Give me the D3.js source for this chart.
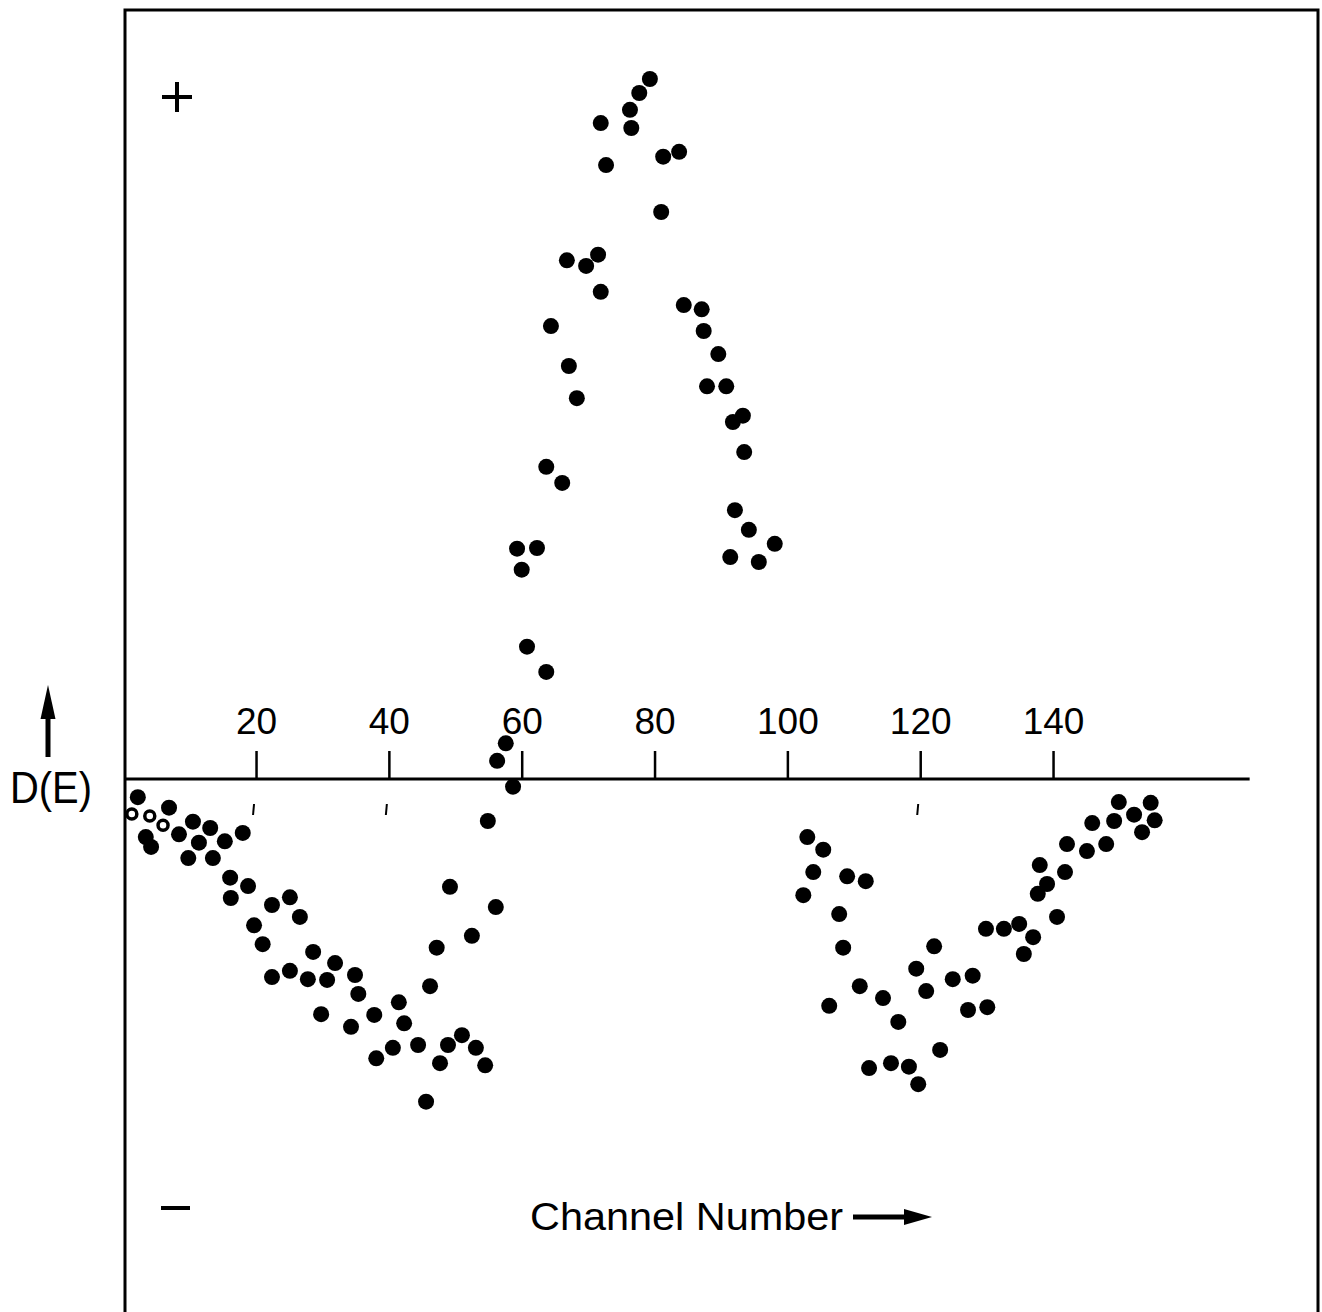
<!DOCTYPE html>
<html>
<head>
<meta charset="utf-8">
<script src="https://cdn.jsdelivr.net/npm/d3@7"></script>
<style>
  body { margin: 0; background: #fff; }
  svg { display: block; font-family: "Liberation Sans", Arial, Helvetica, sans-serif; }
</style>
</head>
<body>
<div id="chart"></div>
<script>
// channel numbers shown on the axis
const tickChannels = [20, 40, 60, 80, 100, 120, 140];
// the little marks that sit under the axis line
const lowerTickChannels = [20, 40, 120];

// [channel, D(E)], D(E) in arbitrary units (peak = 100)
const openPoints = [[1.3, -5.0], [4.0, -5.3], [6.0, -6.6]];

const leftBranch = [
  [2.2, -2.6], [3.4, -8.3], [4.2, -9.7], [6.9, -4.1], [8.4, -7.9], [9.8, -11.3],
  [10.5, -6.1], [11.4, -9.1], [13.1, -7.0], [13.5, -11.3], [15.3, -8.9], [16.1, -14.1],
  [16.2, -17.0], [18.0, -7.7], [18.8, -15.3], [19.7, -20.9], [21.0, -23.6], [22.4, -18.0],
  [22.4, -28.3], [25.1, -16.9], [25.1, -27.4], [26.6, -19.7], [27.8, -28.6], [28.6, -24.7],
  [29.8, -33.6], [30.7, -28.7], [31.9, -26.3], [34.3, -35.4], [34.9, -28.0], [35.4, -30.7],
  [37.8, -33.7], [38.1, -39.9], [40.6, -38.4], [41.5, -31.9], [42.3, -34.9], [44.4, -38.0],
  [45.6, -46.1], [46.2, -29.6], [47.2, -24.1], [47.7, -40.6], [48.9, -38.0], [49.2, -15.4],
  [51.0, -36.6], [52.5, -22.4], [53.1, -38.4], [54.5, -40.9], [54.9, -6.0], [56.1, -18.3],
  [56.3, 2.6], [57.6, 5.1], [58.7, -1.1]
];

const peakBranch = [
  [59.3, 32.9], [60.0, 29.9], [60.8, 18.9], [62.3, 33.0], [63.7, 44.6], [63.7, 15.3],
  [64.4, 64.7], [66.1, 42.3], [66.8, 74.1], [67.1, 59.0], [68.3, 54.4], [69.7, 73.3],
  [71.5, 74.9], [71.9, 69.6], [71.9, 93.7], [72.7, 87.7], [76.3, 95.6], [76.5, 93.0],
  [77.7, 98.0], [79.3, 100.0], [81.0, 81.0], [81.3, 88.9], [83.7, 89.6], [84.4, 67.7],
  [87.1, 67.1], [87.4, 64.0], [87.9, 56.1], [89.6, 60.7], [90.8, 56.1], [91.8, 51.0],
  [93.3, 51.9], [93.5, 46.7], [92.1, 38.4], [94.2, 35.6], [91.4, 31.7], [95.7, 31.0],
  [98.1, 33.6]
];

const rightBranch = [
  [102.4, -16.6], [103.0, -8.3], [103.9, -13.3], [105.4, -10.1], [106.3, -32.4], [107.8, -19.3],
  [108.4, -24.1], [109.0, -13.9], [110.9, -29.6], [111.8, -14.6], [112.3, -41.3], [114.4, -31.3],
  [115.6, -40.6], [116.7, -34.7], [118.3, -41.1], [119.4, -27.1], [119.7, -43.6], [120.9, -30.3],
  [122.1, -23.9], [123.0, -38.7], [124.9, -28.6], [127.2, -33.0], [127.9, -28.1], [129.9, -21.4],
  [130.1, -32.6], [132.6, -21.4], [134.9, -20.7], [135.6, -25.0], [137.0, -22.6], [137.7, -16.4],
  [138.0, -12.3], [139.1, -15.0], [140.6, -19.7], [141.8, -13.3], [142.1, -9.3], [145.1, -10.3],
  [145.9, -6.3], [148.0, -9.3], [149.2, -6.0], [149.9, -3.3], [152.2, -5.1], [153.4, -7.6],
  [154.7, -3.4], [155.3, -5.9]
];

const dimensions = { width: 1322, height: 1312 };
const frame = { left: 125, top: 10, right: 1318 };

const xScale = d3.scaleLinear().domain([0, 170]).range([123.2, 1252.3]);
const yScale = d3.scaleLinear().domain([0, 100]).range([779, 79]);

const svg = d3.select('#chart')
  .append('svg')
  .attr('width', dimensions.width)
  .attr('height', dimensions.height);

// box round the plot, bottom edge runs off the page
svg.append('path')
  .attr('d', `M${frame.left},${dimensions.height + 5} V${frame.top} H${frame.right} V${dimensions.height + 5}`)
  .attr('fill', 'none')
  .attr('stroke', '#000')
  .attr('stroke-width', 3);

// zero line
svg.append('line')
  .attr('x1', frame.left)
  .attr('x2', xScale(169.6))
  .attr('y1', yScale(0))
  .attr('y2', yScale(0))
  .attr('stroke', '#000')
  .attr('stroke-width', 3);

const xAxis = d3.axisTop(xScale)
  .tickValues(tickChannels)
  .tickSize(28)
  .tickPadding(17);

const xAxisGroup = svg.append('g')
  .attr('transform', `translate(0, ${yScale(0)})`)
  .call(xAxis);

xAxisGroup.select('.domain').remove();
xAxisGroup.selectAll('.tick line')
  .attr('stroke', '#000')
  .attr('stroke-width', 2.5);
xAxisGroup.selectAll('.tick text')
  .attr('fill', '#000')
  .style('font-size', '37px')
  .style('font-family', '"Liberation Sans", Arial, sans-serif');

svg.append('g')
  .selectAll('line')
  .data(lowerTickChannels)
  .join('line')
  .attr('x1', d => xScale(d) - 2)
  .attr('x2', d => xScale(d) - 3)
  .attr('y1', yScale(0) + 25)
  .attr('y2', yScale(0) + 36)
  .attr('stroke', '#000')
  .attr('stroke-width', 2);

// the dots
const filled = leftBranch.concat(peakBranch, rightBranch);
svg.append('g')
  .selectAll('circle')
  .data(filled)
  .join('circle')
  .attr('cx', d => xScale(d[0]))
  .attr('cy', d => yScale(d[1]))
  .attr('r', 8)
  .attr('fill', '#000');

svg.append('g')
  .selectAll('circle')
  .data(openPoints)
  .join('circle')
  .attr('cx', d => xScale(d[0]))
  .attr('cy', d => yScale(d[1]))
  .attr('r', 5)
  .attr('fill', '#fff')
  .attr('stroke', '#000')
  .attr('stroke-width', 3.5);

// y label with the up arrow
svg.append('text')
  .attr('x', 10)
  .attr('y', 803)
  .attr('textLength', 82)
  .attr('lengthAdjust', 'spacingAndGlyphs')
  .style('font-size', '45px')
  .text('D(E)');

svg.append('line')
  .attr('x1', 48).attr('x2', 48)
  .attr('y1', 757).attr('y2', 712)
  .attr('stroke', '#000')
  .attr('stroke-width', 5);
svg.append('polygon')
  .attr('points', '48,685 40.5,719 55.5,719')
  .attr('fill', '#000');

// + and - signs
svg.append('path')
  .attr('d', 'M162,97 H192 M177,82 V112')
  .attr('stroke', '#000')
  .attr('stroke-width', 4);
svg.append('path')
  .attr('d', 'M161,1208 H190')
  .attr('stroke', '#000')
  .attr('stroke-width', 4);

// x label with the right arrow
svg.append('text')
  .attr('x', 530)
  .attr('y', 1230)
  .attr('textLength', 313)
  .attr('lengthAdjust', 'spacingAndGlyphs')
  .style('font-size', '38px')
  .text('Channel Number');

svg.append('line')
  .attr('x1', 853).attr('x2', 910)
  .attr('y1', 1217).attr('y2', 1217)
  .attr('stroke', '#000')
  .attr('stroke-width', 5);
svg.append('polygon')
  .attr('points', '932,1217 904,1209 904,1225')
  .attr('fill', '#000');
</script>
</body>
</html>
